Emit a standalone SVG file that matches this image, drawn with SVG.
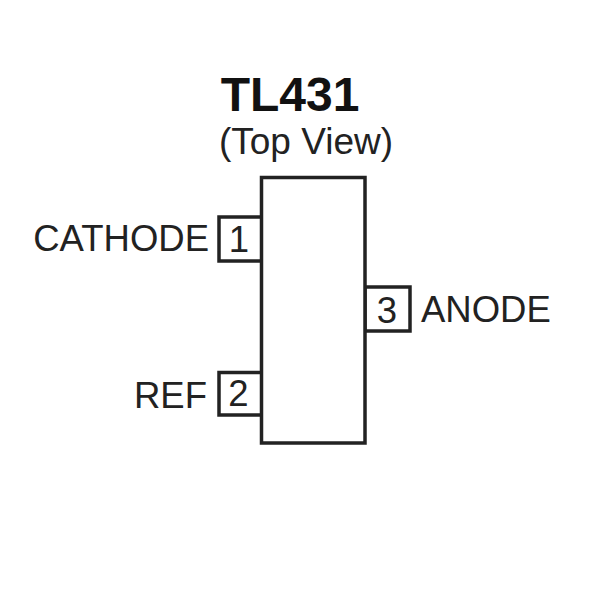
<svg xmlns="http://www.w3.org/2000/svg" width="600" height="600" viewBox="0 0 600 600">
<style>
text{font-family:"Liberation Sans",Arial,sans-serif;fill:#222;font-size:36.5px}
.b{fill:#fff;stroke:#222;stroke-width:3.5}
</style>
<rect width="600" height="600" fill="#fff"/>
<g id="title"><text x="290" y="111" text-anchor="middle" font-weight="bold" style="font-size:48px;fill:#111">TL431</text>
<text x="306" y="154" text-anchor="middle" style="font-size:37px">(Top View)</text></g>
<g id="pin1"><rect class="b" x="219" y="217" width="43" height="44"/><text x="239" y="252" text-anchor="middle">1</text><text x="209" y="251" text-anchor="end">CATHODE</text></g>
<g id="pin2"><rect class="b" x="219" y="372.500" width="43" height="42.500"/><text x="238.500" y="406" text-anchor="middle">2</text><text x="207" y="408" text-anchor="end">REF</text></g>
<g id="pin3"><rect class="b" x="365" y="287" width="45" height="44"/><text x="387" y="323" text-anchor="middle">3</text><text x="421" y="322">ANODE</text></g>
<g id="body"><rect class="b" x="261.500" y="177.500" width="103.500" height="265.500"/></g>
<g id="connectors"></g>
</svg>
